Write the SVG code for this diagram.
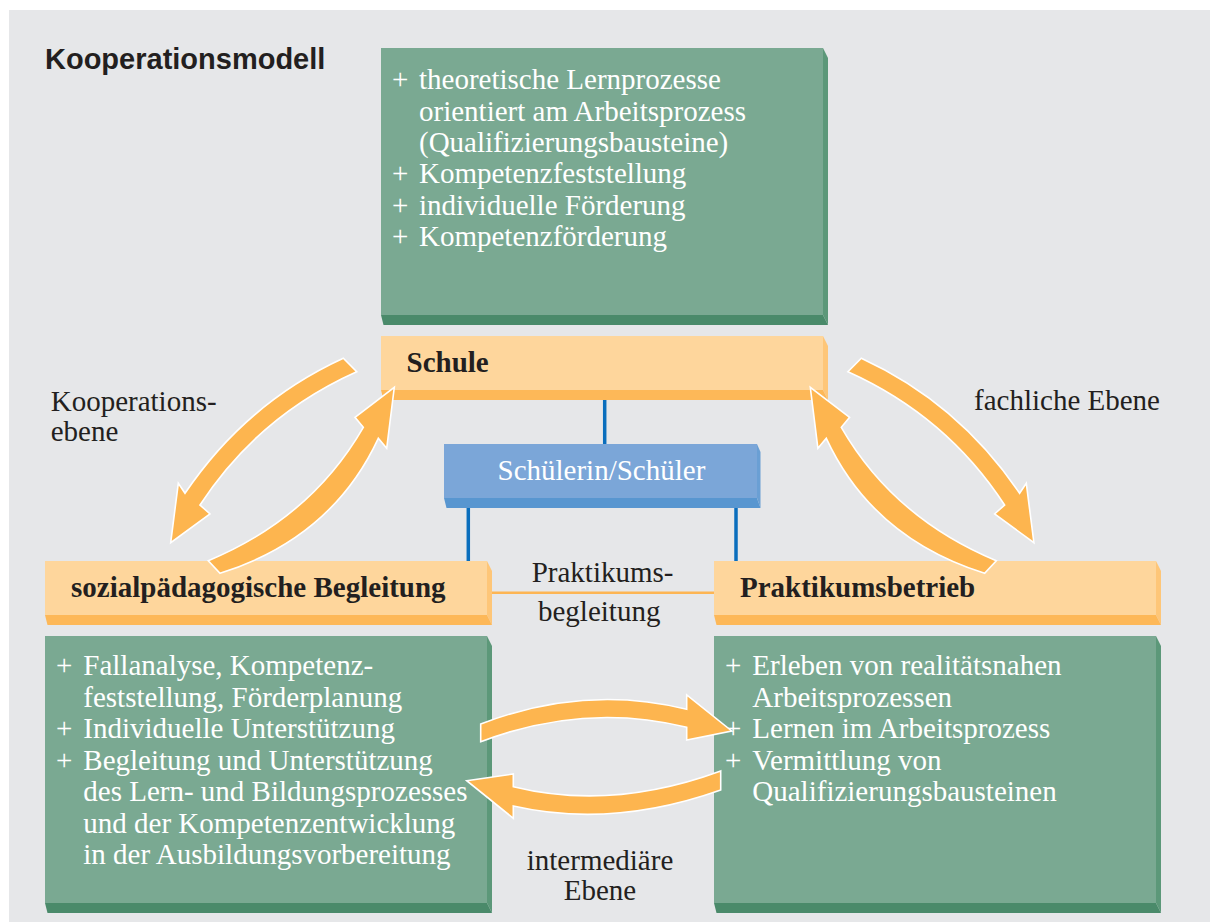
<svg xmlns="http://www.w3.org/2000/svg" width="1210" height="923" viewBox="0 0 1210 923">
<style>
.t{font-family:"Liberation Serif","Times New Roman",serif;font-size:29px;fill:#231f20}
.b{font-weight:bold}
.w{fill:#ffffff}
.gf{fill:#7aa992}.gs{fill:#5c9879}.gb{fill:#4a8a6a}
.of{fill:#fed69c}.os{fill:#fec678}.ob{fill:#fdb858}
.bf{fill:#7ba6d8}.bs{fill:#6a9fd4}.bb{fill:#5896d0}
.arr{fill:#fdb54f;stroke:#ffffff;stroke-width:1.6;stroke-linejoin:miter}
.bl{stroke:#0a6ebd;stroke-width:3.5;fill:none}
.ol{stroke:#fdb553;stroke-width:2.5;fill:none}
</style>
<rect x="9" y="10" width="1201" height="912" fill="#e6e7e9"/>
<text x="45" y="68.5" font-family="'Liberation Sans',Arial,sans-serif" font-weight="bold" font-size="29" fill="#231f20">Kooperationsmodell</text>

<g id="schule-inhalt">
<rect class="gf" x="381" y="48" width="442" height="267"/>
<polygon class="gs" points="823,48 828,58 828,325 823,315"/>
<polygon class="gb" points="381,315 823,315 828,325 383.5,325"/>
<text class="t w" x="392" y="89.3">+</text>
<text class="t w" x="419" y="89.3">theoretische Lernprozesse</text>
<text class="t w" x="419" y="120.6">orientiert am Arbeitsprozess</text>
<text class="t w" x="419" y="151.9">(Qualifizierungsbausteine)</text>
<text class="t w" x="392" y="183.2">+</text>
<text class="t w" x="419" y="183.2">Kompetenzfeststellung</text>
<text class="t w" x="392" y="214.5">+</text>
<text class="t w" x="419" y="214.5">individuelle Förderung</text>
<text class="t w" x="392" y="245.8">+</text>
<text class="t w" x="419" y="245.8">Kompetenzförderung</text>
</g>

<g id="schule">
<rect class="of" x="381" y="336" width="442" height="54"/>
<polygon class="os" points="823,336 828,346 828,400 823,390"/>
<polygon class="ob" points="381,390 823,390 828,400 383.5,400"/>
<text class="t b" x="406.5" y="372">Schule</text>
</g>

<g id="schueler">
<rect class="bf" x="444" y="444" width="313" height="54"/>
<polygon class="bs" points="757,444 760.5,452 760.5,508 757,498"/>
<polygon class="bb" points="444,498 757,498 760.5,508 446.5,508"/>
<text class="t w" x="497.5" y="480">Schülerin/Schüler</text>
</g>

<g id="sozial">
<rect class="of" x="45" y="561" width="442" height="54"/>
<polygon class="os" points="487,561 492,571 492,625 487,615"/>
<polygon class="ob" points="45,615 487,615 492,625 47.5,625"/>
<text class="t b" x="71" y="597">sozialpädagogische Begleitung</text>
</g>

<g id="betrieb">
<rect class="of" x="714" y="561" width="442" height="54"/>
<polygon class="os" points="1156,561 1161,571 1161,625 1156,615"/>
<polygon class="ob" points="714,615 1156,615 1161,625 716.5,625"/>
<text class="t b" x="740" y="597">Praktikumsbetrieb</text>
</g>

<g id="sozial-inhalt">
<rect class="gf" x="45" y="636" width="442" height="267"/>
<polygon class="gs" points="487,636 492,646 492,913 487,903"/>
<polygon class="gb" points="45,903 487,903 492,913 47.5,913"/>
<text class="t w" x="56" y="675">+</text>
<text class="t w" x="83.3" y="675">Fallanalyse, Kompetenz-</text>
<text class="t w" x="83.3" y="706.5">feststellung, Förderplanung</text>
<text class="t w" x="56" y="738">+</text>
<text class="t w" x="83.3" y="738">Individuelle Unterstützung</text>
<text class="t w" x="56" y="769.5">+</text>
<text class="t w" x="83.3" y="769.5">Begleitung und Unterstützung</text>
<text class="t w" x="83.3" y="801">des Lern- und Bildungsprozesses</text>
<text class="t w" x="83.3" y="832.5">und der Kompetenzentwicklung</text>
<text class="t w" x="83.3" y="864">in der Ausbildungsvorbereitung</text>
</g>

<g id="betrieb-inhalt">
<rect class="gf" x="714" y="636" width="442" height="267"/>
<polygon class="gs" points="1156,636 1161,646 1161,913 1156,903"/>
<polygon class="gb" points="714,903 1156,903 1161,913 716.5,913"/>
<text class="t w" x="725" y="675">+</text>
<text class="t w" x="752.3" y="675">Erleben von realitätsnahen</text>
<text class="t w" x="752.3" y="706.5">Arbeitsprozessen</text>
<text class="t w" x="725" y="738">+</text>
<text class="t w" x="752.3" y="738">Lernen im Arbeitsprozess</text>
<text class="t w" x="725" y="769.5">+</text>
<text class="t w" x="752.3" y="769.5">Vermittlung von</text>
<text class="t w" x="752.3" y="801">Qualifizierungsbausteinen</text>
</g>

<g id="labels">
<text class="t" x="50.7" y="410.7">Kooperations-</text>
<text class="t" x="50.7" y="441">ebene</text>
<text class="t" x="974" y="410">fachliche Ebene</text>
<text class="t" x="531.7" y="582">Praktikums-</text>
<text class="t" x="538" y="620.5">begleitung</text>
<text class="t" x="600" y="870" text-anchor="middle">intermediäre</text>
<text class="t" x="600" y="900" text-anchor="middle">Ebene</text>
</g>

<g id="connectors">
<line class="bl" x1="604.7" y1="400" x2="604.7" y2="444"/>
<line class="bl" x1="468.3" y1="508" x2="468.3" y2="561"/>
<line class="bl" x1="736" y1="508" x2="736" y2="561"/>
<line class="ol" x1="492" y1="592.7" x2="714" y2="592.7"/>
<path class="arr" d="M343.3,358.3 Q246,403 185,493.3 L178.3,483.3 L170.7,542.7 L210,514 L200,505 Q258,416 356.7,371.7 Z"/>
<path class="arr" d="M208.3,560.7 Q311,518 363.3,427.3 L355,417.3 L394.3,387.3 L386.7,448.3 L378.3,438.3 Q332,538 220,573.3 Z"/>
<path class="arr" d="M861.3,358.3 Q958.6,403 1019.6,493.3 L1026.3,483.3 L1033.9,542.7 L994.6,514 L1004.6,505 Q946.6,416 847.9,371.7 Z"/>
<path class="arr" d="M996.3,560.7 Q893.6,518 841.3,427.3 L849.6,417.3 L810.3,387.3 L817.9,448.3 L826.3,438.3 Q872.6,538 984.6,573.3 Z"/>
<path class="arr" d="M480.7,724 Q585,684 686.7,709.3 L686.7,695 L731.7,731 L686.7,740 L686.7,727.3 Q585,702 480.7,741.7 Z"/>
<path class="arr" d="M720.7,771 Q612,811 513.3,786.7 L513.3,774 L466.7,780.7 L513.3,818.3 L513.3,806 Q612,828.6 720.7,790 Z"/>
</g>
</svg>
